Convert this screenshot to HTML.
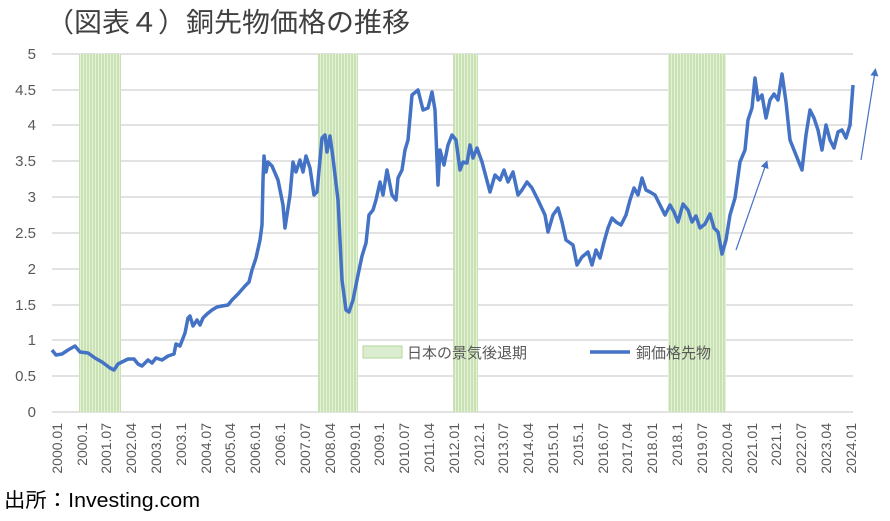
<!DOCTYPE html>
<html><head><meta charset="utf-8"><style>
body{margin:0;background:#fff;}
svg text{font-family:"Liberation Sans","Noto Sans CJK JP",sans-serif;}
</style></head><body>
<svg width="890" height="516" viewBox="0 0 890 516" xmlns="http://www.w3.org/2000/svg">
<defs>
<pattern id="st" width="3" height="10" patternUnits="userSpaceOnUse"><rect width="3" height="10" fill="#c9e2b3"/><rect x="2" width="1" height="10" fill="#e6f1da"/></pattern>
<marker id="ah" markerWidth="8" markerHeight="8" refX="4" refY="4" orient="auto" markerUnits="userSpaceOnUse"><path d="M0,0 L8,4 L0,8 z" fill="#4472c4"/></marker>
</defs>
<text x="46" y="32" font-size="27" fill="#404040" textLength="364" lengthAdjust="spacingAndGlyphs">（図表４）銅先物価格の推移</text>
<g stroke="#d9d9d9" stroke-width="1.5">
<line x1="52" x2="853" y1="54" y2="54"/><line x1="52" x2="853" y1="90" y2="90"/><line x1="52" x2="853" y1="125" y2="125"/><line x1="52" x2="853" y1="161" y2="161"/><line x1="52" x2="853" y1="197" y2="197"/><line x1="52" x2="853" y1="233" y2="233"/><line x1="52" x2="853" y1="269" y2="269"/><line x1="52" x2="853" y1="305" y2="305"/><line x1="52" x2="853" y1="340" y2="340"/><line x1="52" x2="853" y1="376" y2="376"/><line x1="52" x2="853" y1="412" y2="412"/>
</g>
<g fill="url(#st)">
<rect x="79" y="54" width="42" height="358"/><rect x="318" y="54" width="40" height="358"/><rect x="453" y="54" width="25" height="358"/><rect x="668" y="54" width="58" height="358"/>
</g>
<g font-size="15" fill="#595959" text-anchor="end">
<text x="36" y="59">5</text><text x="36" y="95">4.5</text><text x="36" y="130">4</text><text x="36" y="166">3.5</text><text x="36" y="202">3</text><text x="36" y="238">2.5</text><text x="36" y="274">2</text><text x="36" y="310">1.5</text><text x="36" y="345">1</text><text x="36" y="381">0.5</text><text x="36" y="417">0</text>
</g>
<g font-size="14" fill="#595959" text-anchor="end">
<text transform="translate(62,423) rotate(-90)">2000.01</text>
<text transform="translate(87,423) rotate(-90)">2000.1</text>
<text transform="translate(111,423) rotate(-90)">2001.07</text>
<text transform="translate(136,423) rotate(-90)">2002.04</text>
<text transform="translate(161,423) rotate(-90)">2003.01</text>
<text transform="translate(186,423) rotate(-90)">2003.1</text>
<text transform="translate(211,423) rotate(-90)">2004.07</text>
<text transform="translate(235,423) rotate(-90)">2005.04</text>
<text transform="translate(260,423) rotate(-90)">2006.01</text>
<text transform="translate(285,423) rotate(-90)">2006.1</text>
<text transform="translate(310,423) rotate(-90)">2007.07</text>
<text transform="translate(335,423) rotate(-90)">2008.04</text>
<text transform="translate(360,423) rotate(-90)">2009.01</text>
<text transform="translate(384,423) rotate(-90)">2009.1</text>
<text transform="translate(409,423) rotate(-90)">2010.07</text>
<text transform="translate(434,423) rotate(-90)">2011.04</text>
<text transform="translate(459,423) rotate(-90)">2012.01</text>
<text transform="translate(484,423) rotate(-90)">2012.1</text>
<text transform="translate(508,423) rotate(-90)">2013.07</text>
<text transform="translate(533,423) rotate(-90)">2014.04</text>
<text transform="translate(558,423) rotate(-90)">2015.01</text>
<text transform="translate(583,423) rotate(-90)">2015.1</text>
<text transform="translate(608,423) rotate(-90)">2016.07</text>
<text transform="translate(632,423) rotate(-90)">2017.04</text>
<text transform="translate(657,423) rotate(-90)">2018.01</text>
<text transform="translate(682,423) rotate(-90)">2018.1</text>
<text transform="translate(707,423) rotate(-90)">2019.07</text>
<text transform="translate(732,423) rotate(-90)">2020.04</text>
<text transform="translate(757,423) rotate(-90)">2021.01</text>
<text transform="translate(781,423) rotate(-90)">2021.1</text>
<text transform="translate(806,423) rotate(-90)">2022.07</text>
<text transform="translate(831,423) rotate(-90)">2023.04</text>
<text transform="translate(856,423) rotate(-90)">2024.01</text>
</g>
<polyline fill="none" stroke="#4472c4" stroke-width="3.5" stroke-linejoin="round" points="52,350 56,355 62,354 68,350 75,346 80,352 88,353 95,358 102,362 110,368 114,370 118,364 122,362 128,359 134,359 138,364 142,366 148,360 152,363 156,358 162,360 168,356 174,354 176,344 180,346 185,333 188,318 190,316 193,326 197,320 200,325 203,318 207,314 212,310 217,307 222,306 228,305 232,300 238,294 245,286 249,282 252,270 256,258 260,240 262,225 263,180 264,156 266,172 268,162 272,166 278,180 283,205 285,228 290,195 293,162 296,172 300,160 303,172 306,156 310,168 314,195 317,192 322,138 325,135 327,152 330,136 333,158 338,200 342,280 346,310 349,312 353,300 358,275 362,256 366,243 369,215 373,210 376,200 380,182 383,195 387,170 392,195 396,200 398,178 402,170 405,150 408,140 412,95 418,90 423,110 428,108 432,92 435,110 438,185 440,150 444,165 448,145 452,135 456,140 460,170 463,162 467,163 470,145 473,158 477,148 482,162 490,192 495,175 500,180 504,170 508,182 513,172 518,195 522,190 527,182 532,188 538,200 545,215 548,232 553,215 558,208 562,222 566,240 573,245 577,265 582,257 588,252 592,265 596,250 600,258 604,242 608,228 612,218 616,222 621,225 626,215 630,200 634,188 638,195 642,178 646,190 650,192 655,195 660,205 665,215 670,205 674,212 678,222 683,204 688,210 692,222 696,216 700,228 705,224 710,214 714,228 718,232 722,254 726,240 730,215 735,198 740,162 745,150 748,120 752,108 755,78 758,100 762,95 766,118 770,100 774,94 778,100 782,74 786,102 790,140 794,150 798,160 802,170 806,135 810,110 814,118 818,130 822,150 826,125 830,140 834,148 838,132 842,130 846,138 850,125 853,85"/>
<line x1="736" y1="250" x2="766" y2="164" stroke="#4472c4" stroke-width="1.2" marker-end="url(#ah)"/>
<line x1="861" y1="160" x2="875" y2="72" stroke="#4472c4" stroke-width="1.2" marker-end="url(#ah)"/>
<rect x="363" y="346" width="39" height="12" fill="#dcecd0" stroke="#b5d69a" stroke-width="1"/>
<text x="407" y="358" font-size="15" fill="#595959">日本の景気後退期</text>
<line x1="590" y1="352" x2="630" y2="352" stroke="#4472c4" stroke-width="3.5"/>
<text x="636" y="358" font-size="15" fill="#595959">銅価格先物</text>
<text x="4" y="507" font-size="20" fill="#000" textLength="196" lengthAdjust="spacingAndGlyphs">出所：Investing.com</text>
</svg>
</body></html>
